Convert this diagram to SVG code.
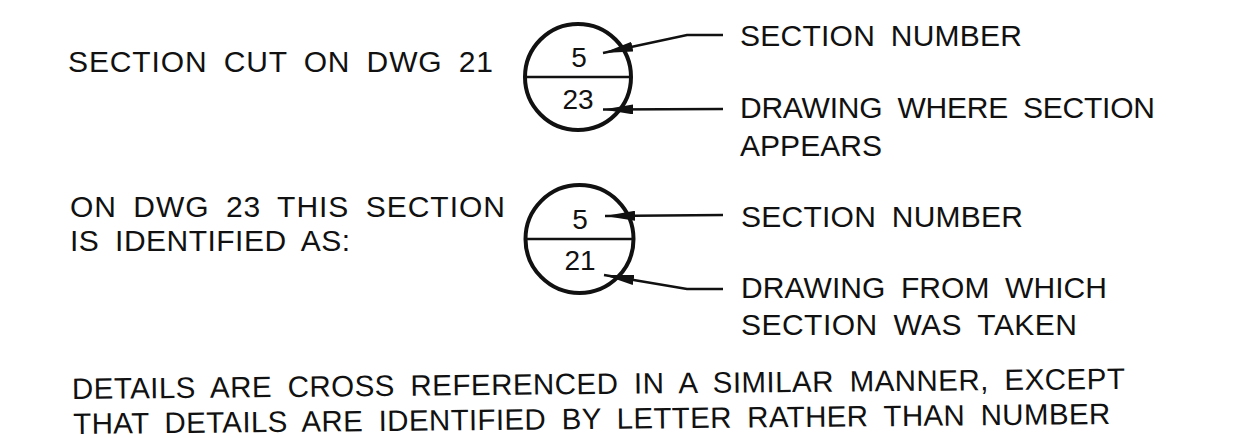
<svg xmlns="http://www.w3.org/2000/svg" width="1241" height="438" viewBox="0 0 1241 438">
  <style>
    text { font-family: "Liberation Sans", Arial, sans-serif; fill: #111; }
    .lbl { font-size: 30px; word-spacing: 7px; }
    .note { font-size: 29.5px; word-spacing: 7px; }
    .num { font-size: 28px; text-anchor: middle; }
    .bubble { fill: none; stroke: #111; stroke-width: 4; }
    .divider { stroke: #111; stroke-width: 2.5; }
    .leader { fill: none; stroke: #111; stroke-width: 2.5; marker-end: url(#tick); }
  </style>
  <defs>
    <!-- long slender CAD-style filled arrowhead -->
    <marker id="tick" markerUnits="userSpaceOnUse" viewBox="0 0 30 10" markerWidth="30" markerHeight="10" refX="30" refY="5" orient="auto">
      <path d="M0,0 L30,5 L0,10 Z" fill="#111"/>
    </marker>
  </defs>
  <rect width="1241" height="438" fill="#fff"/>

  <!-- left-hand captions -->
  <g id="caption-cut">
    <text class="lbl" x="68" y="72" textLength="425" lengthAdjust="spacing">SECTION CUT ON DWG 21</text>
  </g>
  <g id="caption-identified">
    <text class="lbl" x="70" y="217" textLength="435" lengthAdjust="spacing">ON DWG 23 THIS SECTION</text>
    <text class="lbl" x="70" y="251" textLength="280" lengthAdjust="spacing">IS IDENTIFIED AS:</text>
  </g>

  <!-- section bubble as cut on DWG 21 -->
  <g id="bubble-upper">
    <circle class="bubble" cx="578" cy="77" r="53"/>
    <line class="divider" x1="525" y1="77" x2="631" y2="77"/>
    <text class="num" x="579" y="67">5</text>
    <text class="num" x="578" y="109">23</text>
  </g>

  <!-- section bubble as shown on DWG 23 -->
  <g id="bubble-lower">
    <circle class="bubble" cx="579.5" cy="239" r="54"/>
    <line class="divider" x1="526" y1="239" x2="633" y2="239"/>
    <text class="num" x="580" y="229">5</text>
    <text class="num" x="580" y="270">21</text>
  </g>

  <!-- right-hand labels -->
  <g id="label-number-upper">
    <text class="lbl" x="740" y="46" textLength="282" lengthAdjust="spacing">SECTION NUMBER</text>
  </g>
  <g id="label-appears">
    <text class="lbl" x="740" y="118" textLength="415" lengthAdjust="spacing">DRAWING WHERE SECTION</text>
    <text class="lbl" x="740" y="156" textLength="142" lengthAdjust="spacing">APPEARS</text>
  </g>
  <g id="label-number-lower">
    <text class="lbl" x="741" y="227" textLength="282" lengthAdjust="spacing">SECTION NUMBER</text>
  </g>
  <g id="label-taken">
    <text class="lbl" x="741" y="298" textLength="366" lengthAdjust="spacing">DRAWING FROM WHICH</text>
    <text class="lbl" x="741" y="335" textLength="336" lengthAdjust="spacing">SECTION WAS TAKEN</text>
  </g>

  <!-- leaders from labels to bubble entries -->
  <g id="connectors">
    <path class="leader" d="M723,35 L687,35 L603,53"/>
    <path class="leader" d="M723,109 L603,109.5"/>
    <path class="leader" d="M723,215 L605,216"/>
    <path class="leader" d="M723,289 L687,289 L604,275"/>
  </g>

  <!-- general note -->
  <g id="note" transform="rotate(-0.55 72 400)">
    <text class="note" x="72" y="399" textLength="1053" lengthAdjust="spacing">DETAILS ARE CROSS REFERENCED IN A SIMILAR MANNER, EXCEPT</text>
    <text class="note" x="73" y="434" textLength="1037" lengthAdjust="spacing">THAT DETAILS ARE IDENTIFIED BY LETTER RATHER THAN NUMBER</text>
  </g>
</svg>
